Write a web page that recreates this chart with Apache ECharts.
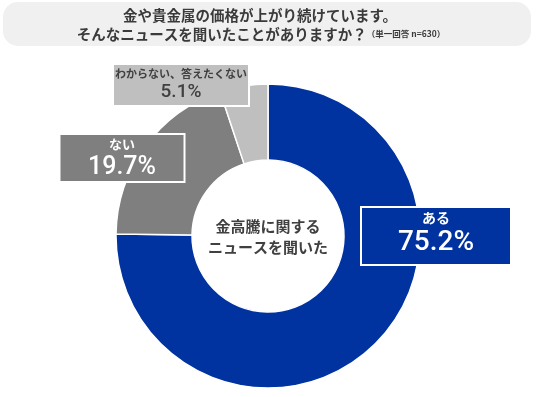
<!DOCTYPE html>
<html>
<head>
<meta charset="utf-8">
<script src="https://cdn.jsdelivr.net/npm/echarts@6/dist/echarts.min.js"></script>
<style>
  html, body { margin: 0; padding: 0; background: #fff; }
  #chart { width: 536px; height: 397px; }
</style>
</head>
<body>
<div id="chart"></div>
<script>
const categories = ['ある', 'ない', 'わからない、答えたくない']
const values = [75.2, 19.7, 5.1]
const colors = ['#0033a0', '#7f7f7f', '#bfbfbf']
const titleLines = ['金や貴金属の価格が上がり続けています。', 'そんなニュースを聞いたことがありますか？']
const note = '（単一回答 n=630）'
const centerText = '金高騰に関する\nニュースを聞いた'

const FONT = '"Noto Sans CJK JP", "Noto Sans", sans-serif'

// ラベル枠の位置とサイズ
const boxes = [
  { x: 436, y: 236, w: 148, h: 56, nameSize: 14, valSize: 28, color: '#fff' },
  { x: 122, y: 158, w: 123, h: 46, nameSize: 13, valSize: 25, color: '#fff' },
  { x: 181, y: 85, w: 134, h: 40, nameSize: 11, valSize: 19, color: '#404040' },
]

const chart = echarts.init(document.getElementById('chart'))

const option = {
  animation: false,
  graphic: [
    {
      type: 'rect',
      shape: { x: 3, y: 2, width: 528, height: 44, r: 15 },
      style: { fill: '#f0f0f0' },
      z: 0,
    },
    {
      type: 'text',
      x: 260,
      y: 15,
      style: {
        text: titleLines[0],
        font: 'bold 14.5px ' + FONT,
        fill: '#3a3a3a',
        align: 'center',
        verticalAlign: 'middle',
      },
    },
    {
      type: 'text',
      x: 261,
      y: 34,
      style: {
        text: '{a|' + titleLines[1] + '}{b|' + note + '}',
        align: 'center',
        verticalAlign: 'middle',
        rich: {
          a: { font: 'bold 14.5px ' + FONT, fill: '#3a3a3a', color: '#3a3a3a' },
          b: { font: 'bold 8.5px ' + FONT, fill: '#3a3a3a', color: '#3a3a3a' },
        },
      },
    },
    {
      type: 'text',
      x: 268,
      y: 237,
      z: 10,
      style: {
        text: centerText,
        font: 'bold 15px ' + FONT,
        fill: '#404040',
        align: 'center',
        verticalAlign: 'middle',
        lineHeight: 21,
      },
    },
  ],
  series: [
    {
      type: 'pie',
      center: [268, 236],
      radius: [76, 152],
      startAngle: 90,
      clockwise: true,
      avoidLabelOverlap: false,
      itemStyle: { borderColor: '#fff', borderWidth: 1.5 },
      labelLine: { show: false },
      data: categories.map((name, i) => ({
        name,
        value: values[i],
        itemStyle: { color: colors[i] },
        label: {
          show: true,
          position: 'outside',
          formatter: '{n|' + name + '}\n{v|' + values[i].toFixed(1) + '%}',
          backgroundColor: colors[i],
          borderColor: '#fff',
          borderWidth: 2,
          width: boxes[i].w,
          height: boxes[i].h,
          align: 'center',
          verticalAlign: 'middle',
          rich: {
            n: {
              fontFamily: FONT,
              fontWeight: 'bold',
              fontSize: boxes[i].nameSize,
              color: boxes[i].color,
              align: 'center',
              lineHeight: boxes[i].nameSize + 6,
            },
            v: {
              fontFamily: 'Roboto, ' + FONT,
              fontWeight: 500,
              fontSize: boxes[i].valSize,
              color: boxes[i].color,
              align: 'center',
              lineHeight: boxes[i].valSize + 2,
            },
          },
        },
      })),
      labelLayout: params => ({
        x: boxes[params.dataIndex].x,
        y: boxes[params.dataIndex].y,
        align: 'center',
        verticalAlign: 'middle',
      }),
    },
  ],
}

chart.setOption(option)
</script>
</body>
</html>
